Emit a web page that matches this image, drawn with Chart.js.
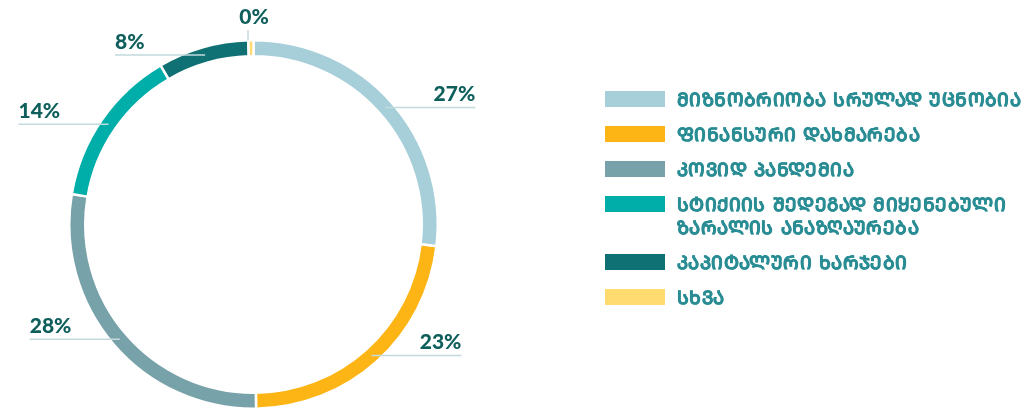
<!DOCTYPE html>
<html lang="ka">
<head>
  <meta charset="UTF-8">
  <title>დაფინანსების მიზნობრიობა</title>
  <style>
    body { margin: 0; background: #fff; }
    #wrap { position: relative; width: 1032px; height: 410px; overflow: hidden; }
    #legend { position: absolute; left: 605px; top: 88px; margin: 0; padding: 0; list-style: none;
      font-family: "DejaVu Sans", sans-serif; font-weight: bold; font-size: 18.5px; letter-spacing: 0.4px;
      color: #2a8d94; -webkit-text-stroke: 0.5px #2a8d94; }
    #legend li { display: flex; align-items: flex-start; margin-bottom: 12px; line-height: 23px; }
    #legend .sw { width: 60px; height: 16px; margin-top: 3px; margin-right: 12px; flex: none; }
    #legend .tx { width: 350px; }
  </style>
</head>
<body>
  <div id="wrap">
    <canvas id="chart" width="1032" height="410"></canvas>
    <ul id="legend"></ul>
  </div>

  <script src="https://cdn.jsdelivr.net/npm/chart.js"></script>
  <script>
    const categories = [
      'ᲛᲘᲖᲜᲝᲑᲠᲘᲝᲑᲐ ᲡᲠᲣᲚᲐᲓ ᲣᲪᲜᲝᲑᲘᲐ',
      'ᲤᲘᲜᲐᲜᲡᲣᲠᲘ ᲓᲐᲮᲛᲐᲠᲔᲑᲐ',
      'ᲙᲝᲕᲘᲓ ᲞᲐᲜᲓᲔᲛᲘᲐ',
      'ᲡᲢᲘᲥᲘᲘᲡ ᲨᲔᲓᲔᲒᲐᲓ ᲛᲘᲧᲔᲜᲔᲑᲣᲚᲘ ᲖᲐᲠᲐᲚᲘᲡ ᲐᲜᲐᲖᲦᲐᲣᲠᲔᲑᲐ',
      'ᲙᲐᲞᲘᲢᲐᲚᲣᲠᲘ ᲮᲐᲠᲯᲔᲑᲘ',
      'ᲡᲮᲕᲐ'
    ];
    const values = [27, 23, 28, 14, 8, 0.45];
    const colors = ['#a6cfd9', '#fdb515', '#78a2a9', '#00aea9', '#0f7173', '#ffdb70'];

    // leader lines + percentage labels
    const leaderLabels = {
      id: 'leaderLabels',
      afterDatasetsDraw(chart) {
        const c = chart.ctx;
        const arcs = chart.getDatasetMeta(0).data;
        c.save();
        c.font = '900 21px Lato, sans-serif';
        c.fillStyle = '#0e5f5c';
        c.strokeStyle = '#c3dadd';
        c.lineWidth = 1.5;
        arcs.forEach((arc, i) => {
          const p = arc.getProps(['x', 'y', 'startAngle', 'endAngle', 'innerRadius', 'outerRadius'], true);
          const mid = (p.startAngle + p.endAngle) / 2;
          const r = (p.innerRadius + p.outerRadius) / 2;
          const px = p.x + Math.cos(mid) * r;
          const py = p.y + Math.sin(mid) * r;
          const text = Math.round(values[i]) + '%';
          if (values[i] < 1) {
            c.beginPath();
            c.moveTo(px - 3, p.y - p.outerRadius);
            c.lineTo(px - 3, p.y - p.outerRadius - 10);
            c.stroke();
            c.textAlign = 'center';
            c.fillText(text, px + 3, p.y - p.outerRadius - 16);
            return;
          }
          const dir = px > p.x ? 1 : -1;
          const ex = px + dir * 90;
          c.beginPath();
          c.moveTo(px, py);
          c.lineTo(ex, py);
          c.stroke();
          c.textAlign = dir > 0 ? 'right' : 'left';
          c.fillText(text, ex, py - 6);
        });
        c.restore();
      }
    };

    new Chart(document.getElementById('chart'), {
      type: 'doughnut',
      data: {
        labels: categories,
        datasets: [{
          data: values,
          backgroundColor: colors,
          borderColor: '#fff',
          borderWidth: 2.5
        }]
      },
      options: {
        responsive: false,
        animation: false,
        cutout: '91.3%',
        layout: { padding: { left: 68, top: 39, right: 593, bottom: 0 } },
        plugins: { legend: { display: false }, tooltip: { enabled: false } }
      },
      plugins: [leaderLabels]
    });

    const ul = document.getElementById('legend');
    categories.forEach((name, i) => {
      const li = document.createElement('li');
      li.innerHTML = '<span class="sw" style="background:' + colors[i] + '"></span><span class="tx"></span>';
      li.querySelector('.tx').textContent = name;
      ul.appendChild(li);
    });
  </script>
</body>
</html>
